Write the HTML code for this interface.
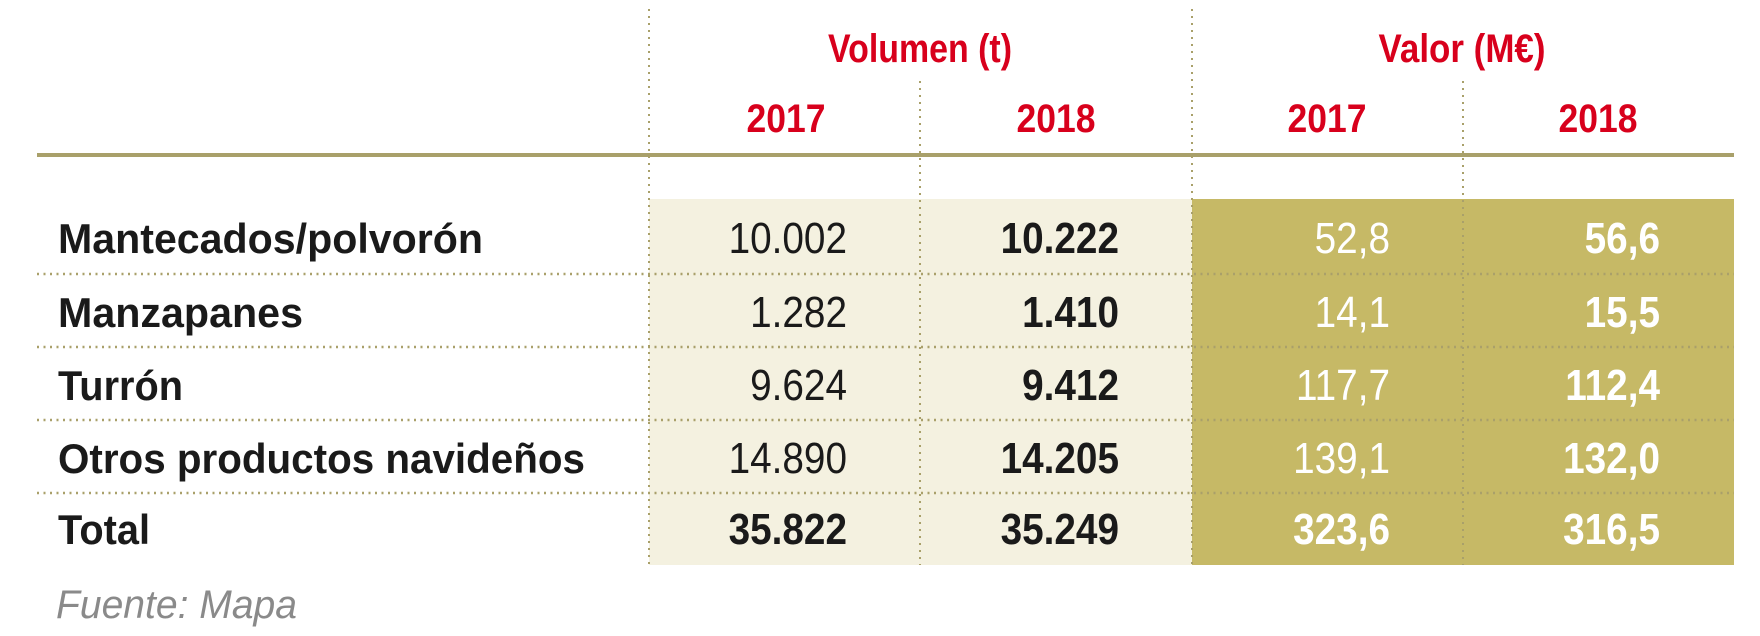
<!DOCTYPE html>
<html><head><meta charset="utf-8"><style>
html,body{margin:0;padding:0;background:#fff;}
svg{display:block;}
text{font-family:"Liberation Sans",sans-serif;}
</style></head><body>
<svg width="1760" height="636" viewBox="0 0 1760 636" xmlns="http://www.w3.org/2000/svg">
<rect x="649" y="199" width="543" height="366" fill="#f4f1e0"/>
<rect x="1192" y="199" width="542" height="366" fill="#c6b966"/>
<g stroke="#a9a06a" stroke-width="2" stroke-dasharray="2,5">
<line x1="649" y1="9" x2="649" y2="565"/>
<line x1="1192" y1="9" x2="1192" y2="565"/>
<line x1="920" y1="81" x2="920" y2="565"/>
<line x1="1463" y1="81" x2="1463" y2="565"/>
</g>
<g stroke="#a9a06a" stroke-width="2.5" stroke-dasharray="2,4.5">
<line x1="37" y1="274" x2="1734" y2="274"/>
<line x1="37" y1="347" x2="1734" y2="347"/>
<line x1="37" y1="420" x2="1734" y2="420"/>
<line x1="37" y1="493" x2="1734" y2="493"/>
</g>
<line x1="37" y1="155" x2="1734" y2="155" stroke="#a9a06a" stroke-width="4"/>
<g fill="#d8001c" font-size="40" font-weight="bold" text-anchor="middle">
<text x="920" y="62" textLength="184" lengthAdjust="spacingAndGlyphs">Volumen (t)</text>
<text x="1462" y="62" textLength="167" lengthAdjust="spacingAndGlyphs">Valor (M€)</text>
<text x="786" y="132" textLength="79" lengthAdjust="spacingAndGlyphs">2017</text>
<text x="1056" y="132" textLength="79" lengthAdjust="spacingAndGlyphs">2018</text>
<text x="1327" y="132" textLength="79" lengthAdjust="spacingAndGlyphs">2017</text>
<text x="1598" y="132" textLength="79" lengthAdjust="spacingAndGlyphs">2018</text>
</g>
<g fill="#1a1a1a" font-size="42" font-weight="bold">
<text x="58" y="253" textLength="425" lengthAdjust="spacingAndGlyphs">Mantecados/polvorón</text>
<text x="58" y="327" textLength="245" lengthAdjust="spacingAndGlyphs">Manzapanes</text>
<text x="58" y="400" textLength="125" lengthAdjust="spacingAndGlyphs">Turrón</text>
<text x="58" y="473" textLength="527" lengthAdjust="spacingAndGlyphs">Otros productos navideños</text>
<text x="58" y="544" textLength="92" lengthAdjust="spacingAndGlyphs">Total</text>
</g>
<g font-size="44" text-anchor="end">
<g fill="#1a1a1a">
<text transform="translate(847,253) scale(0.88,1)">10.002</text>
<text transform="translate(847,327) scale(0.88,1)">1.282</text>
<text transform="translate(847,400) scale(0.88,1)">9.624</text>
<text transform="translate(847,473) scale(0.88,1)">14.890</text>
<text transform="translate(847,544) scale(0.88,1)" font-weight="bold">35.822</text>
<g font-weight="bold">
<text transform="translate(1119,253) scale(0.88,1)">10.222</text>
<text transform="translate(1119,327) scale(0.88,1)">1.410</text>
<text transform="translate(1119,400) scale(0.88,1)">9.412</text>
<text transform="translate(1119,473) scale(0.88,1)">14.205</text>
<text transform="translate(1119,544) scale(0.88,1)">35.249</text>
</g>
</g>
<g fill="#ffffff">
<text transform="translate(1390,253) scale(0.88,1)">52,8</text>
<text transform="translate(1390,327) scale(0.88,1)">14,1</text>
<text transform="translate(1390,400) scale(0.88,1)">117,7</text>
<text transform="translate(1390,473) scale(0.88,1)">139,1</text>
<text transform="translate(1390,544) scale(0.88,1)" font-weight="bold">323,6</text>
<g font-weight="bold">
<text transform="translate(1660,253) scale(0.88,1)">56,6</text>
<text transform="translate(1660,327) scale(0.88,1)">15,5</text>
<text transform="translate(1660,400) scale(0.88,1)">112,4</text>
<text transform="translate(1660,473) scale(0.88,1)">132,0</text>
<text transform="translate(1660,544) scale(0.88,1)">316,5</text>
</g>
</g>
</g>
<text x="56" y="618" fill="#8a8a8a" font-size="40" font-style="italic" textLength="241" lengthAdjust="spacingAndGlyphs">Fuente: Mapa</text>
</svg>
</body></html>
